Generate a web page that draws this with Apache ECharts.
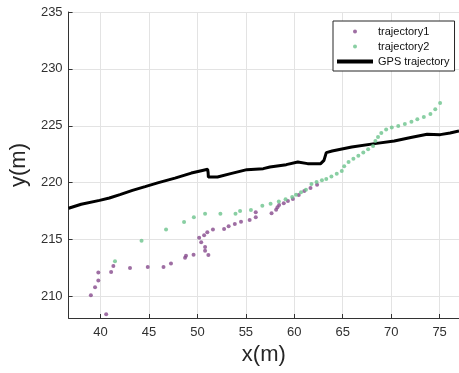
<!DOCTYPE html>
<html>
<head>
<meta charset="utf-8">
<script src="https://cdn.jsdelivr.net/npm/echarts@6/dist/echarts.min.js"></script>
<style>html,body{margin:0;padding:0;background:#fff}#c{width:459px;height:373px}</style>
</head>
<body>
<div id="c"></div>
<script>
const traj1X = [39.0,39.43,39.77,39.77,40.58,41.09,41.32,43.04,44.87,46.5,47.27,48.72,48.82,49.6,50.18,50.39,50.69,50.79,50.79,51.02,51.13,51.6,52.75,53.22,53.86,54.5,55.39,56.02,56.02,57.65,58.12,58.26,58.43,58.91,59.34,59.85,60.46,61.03,61.67,62.35];
const traj1Y = [210.1,210.8,211.4,212.1,208.44,212.14,212.67,212.49,212.58,212.58,212.9,213.4,213.58,213.67,215.16,214.75,215.37,214.34,214.02,215.63,213.63,215.87,215.92,216.16,216.36,216.57,216.71,216.95,217.39,217.3,217.62,217.83,218.03,218.18,218.38,218.56,218.91,219.26,219.53,219.82];

const traj2X = [41.49,44.23,46.76,48.62,49.63,50.79,52.37,53.93,54.4,55.52,56.7,57.55,58.4,59.1,59.78,60.18,60.69,61.2,61.77,62.3,62.85,63.3,63.83,64.38,64.9,65.15,65.6,66.1,66.61,67.12,67.62,68.13,68.37,68.64,68.98,69.48,70.06,70.73,71.41,72.09,72.7,73.37,74.05,74.55,75.05];
const traj2Y = [213.08,214.9,215.89,216.54,216.95,217.27,217.27,217.27,217.5,217.59,217.97,218.15,218.35,218.55,218.73,218.94,219.15,219.38,219.88,220.05,220.2,220.32,220.55,220.78,221.02,221.43,221.81,222.11,222.37,222.64,222.93,223.22,223.66,224.01,224.36,224.66,224.84,224.98,225.15,225.36,225.57,225.77,226.03,226.45,227.0];

const gpsX = [36.7,38.0,39.9,40.91,42.0,43.29,44.6,45.98,47.68,49.37,50.4,51.05,51.1,51.13,52.07,53.43,55.1,56.8,57.48,59.17,60.36,61.37,62.72,63.06,63.3,63.9,65.93,68.3,70.32,72.02,73.71,75.06,76.08,77.0];
const gpsY = [217.75,218.1,218.44,218.65,218.95,219.32,219.65,220.0,220.4,220.84,221.05,221.17,220.9,220.49,220.49,220.79,221.14,221.23,221.37,221.58,221.81,221.67,221.67,221.96,222.64,222.78,223.13,223.43,223.66,223.96,224.25,224.22,224.36,224.54];

const seriesNames = ['trajectory1','trajectory2','GPS trajectory'];
const xName = 'x(m)';
const yName = 'y(m)';

const zip = (a, b) => a.map((v, i) => [v, b[i]]);
const font = 'Liberation Sans, Arial, Helvetica, sans-serif';

const chart = echarts.init(document.getElementById('c'), null, {renderer: 'canvas'});
chart.setOption({
  animation: false,
  backgroundColor: '#fff',
  grid: {left: 62, top: 12, right: 0, bottom: 55, containLabel: false},
  legend: {
    orient: 'vertical', left: 333, top: 21,
    padding: [4, 5, 3, 4], itemGap: 2,
    itemWidth: 36, itemHeight: 4,
    borderColor: '#262626', borderWidth: 1, borderRadius: 0,
    backgroundColor: '#fff',
    textStyle: {fontFamily: font, fontSize: 11, color: '#111', lineHeight: 13},
    data: [
      {name: seriesNames[0]},
      {name: seriesNames[1]},
      {name: seriesNames[2], icon: 'rect', itemStyle: {color: '#000'}}
    ]
  },
  xAxis: {
    type: 'value', min: 36.7, max: 77, minInterval: 5, maxInterval: 5,
    name: xName, nameLocation: 'middle', nameGap: 22,
    nameTextStyle: {fontFamily: font, fontSize: 22, color: '#262626'},
    axisLine: {show: true, onZero: false, lineStyle: {color: '#333', width: 1}},
    axisTick: {show: true, inside: true, length: 4, lineStyle: {color: '#333'}},
    axisLabel: {fontFamily: font, fontSize: 13, color: '#303030', margin: 8, showMinLabel: false, showMaxLabel: false},
    splitLine: {show: true, lineStyle: {color: '#e3e3e3', width: 1}}
  },
  yAxis: {
    type: 'value', min: 208.1, max: 235, minInterval: 5, maxInterval: 5,
    name: yName, nameLocation: 'middle', nameGap: 31,
    nameTextStyle: {fontFamily: font, fontSize: 22, color: '#262626'},
    axisLine: {show: true, onZero: false, lineStyle: {color: '#333', width: 1}},
    axisTick: {show: true, inside: true, length: 4, lineStyle: {color: '#333'}},
    axisLabel: {fontFamily: font, fontSize: 13, color: '#303030', margin: 6, showMinLabel: false},
    splitLine: {show: true, lineStyle: {color: '#e3e3e3', width: 1}}
  },
  series: [
    {
      name: seriesNames[0], type: 'scatter', data: zip(traj1X, traj1Y),
      symbol: 'circle', symbolSize: 4, symbolKeepAspect: true,
      itemStyle: {color: '#864a8c'}, z: 3
    },
    {
      name: seriesNames[1], type: 'scatter', data: zip(traj2X, traj2Y),
      symbol: 'circle', symbolSize: 4, symbolKeepAspect: true,
      itemStyle: {color: '#6cc38c'}, z: 3
    },
    {
      name: seriesNames[2], type: 'line', data: zip(gpsX, gpsY),
      showSymbol: false, symbol: 'none', smooth: false,
      lineStyle: {color: '#000', width: 3}, itemStyle: {color: '#000'}, z: 2
    }
  ]
});
</script>
</body>
</html>
